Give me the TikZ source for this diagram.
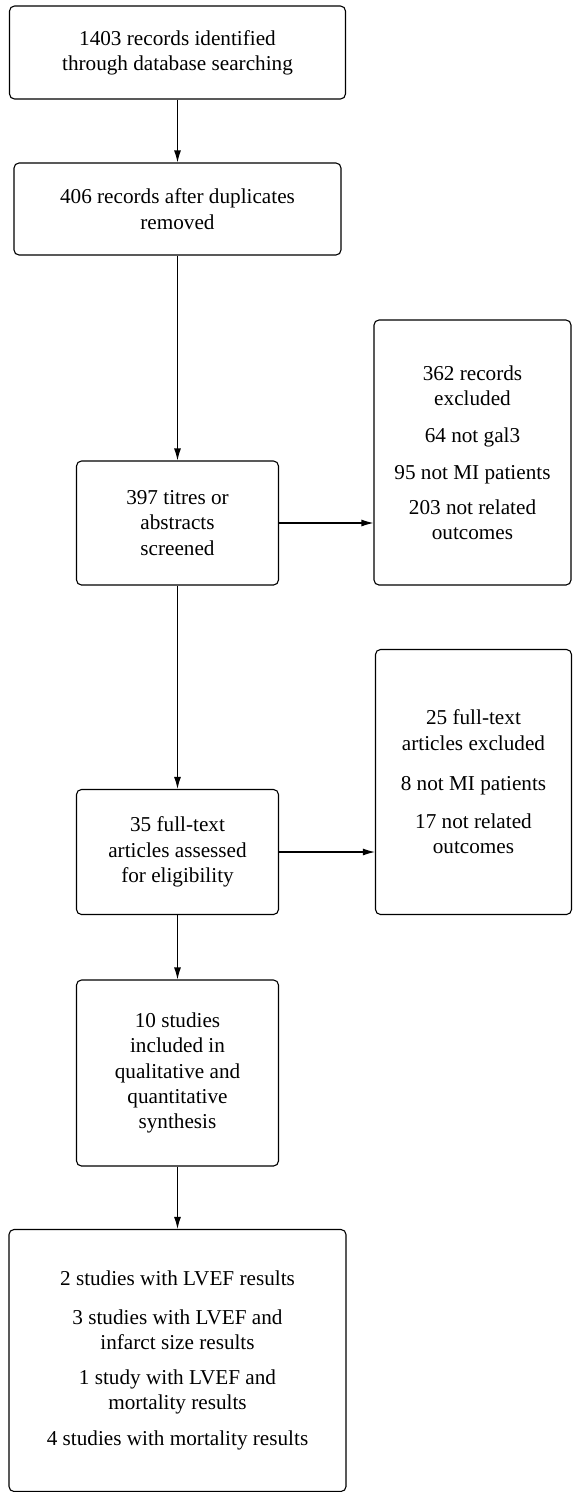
\documentclass[tikz,border=0pt]{standalone}
\usepackage{fontspec}
\setmainfont{Liberation Serif}
\usepackage{tikz}
\usetikzlibrary{arrows.meta}

\begin{document}
\begin{tikzpicture}[x=1pt,y=-1pt,>={Latex[length=12pt,width=7pt]},line width=1.1pt,
    every node/.style={font={\fontsize{21.2pt}{25.3pt}\selectfont},align=center},
    stagebox/.style={draw,rectangle,rounded corners=5pt,inner sep=0pt}]
    \useasboundingbox (0,0) rectangle (573,1492);
    %flow
    \node[stagebox,minimum width=336pt,minimum height=93pt] (ident) at (177.5,52.5) {1403 records identified\\through database searching};
    \node[stagebox,minimum width=327pt,minimum height=92pt] (dupl) at (177.5,209) {406 records after duplicates\\removed};
    \node[stagebox,minimum width=202pt,minimum height=124pt] (screen) at (177.5,523) {397 titres or\\abstracts\\screened};
    \node[stagebox,minimum width=197pt,minimum height=265pt] (excl) at (472.5,452.5) {362 records\\excluded\\[12pt]64 not gal3\\[12pt]95 not MI patients\\[9pt]203 not related\\outcomes};
    \node[stagebox,minimum width=202pt,minimum height=125pt] (full) at (177.5,852) {35 full-text\\articles assessed\\for eligibility};
    \node[stagebox,minimum width=196pt,minimum height=265pt] (fullexcl) at (473.5,782) {25 full-text\\articles excluded\\[15pt]8 not MI patients\\[13pt]17 not related\\outcomes};
    \node[stagebox,minimum width=202pt,minimum height=186pt] (incl) at (177.5,1073) {10 studies\\included in\\qualitative and\\quantitative\\synthesis};
    \node[stagebox,minimum width=337pt,minimum height=262pt] (result) at (177.5,1360.5) {2 studies with LVEF results\\[14pt]3 studies with LVEF and\\infarct size results\\[9pt]1 study with LVEF and\\mortality results\\[11pt]4 studies with mortality results};
    \draw (ident) edge[->] (dupl) ;
    \draw (dupl) edge[->] (screen) ;
    \draw (screen) edge[->] (screen -| excl.west) ;
    \draw (screen) edge[->] (full) ;
    \draw (full) edge[->] (full -| fullexcl.west) ;
    \draw (full) edge[->] (incl) ;
    \draw (incl) edge[->] (result) ;
\end{tikzpicture}
\end{document}
